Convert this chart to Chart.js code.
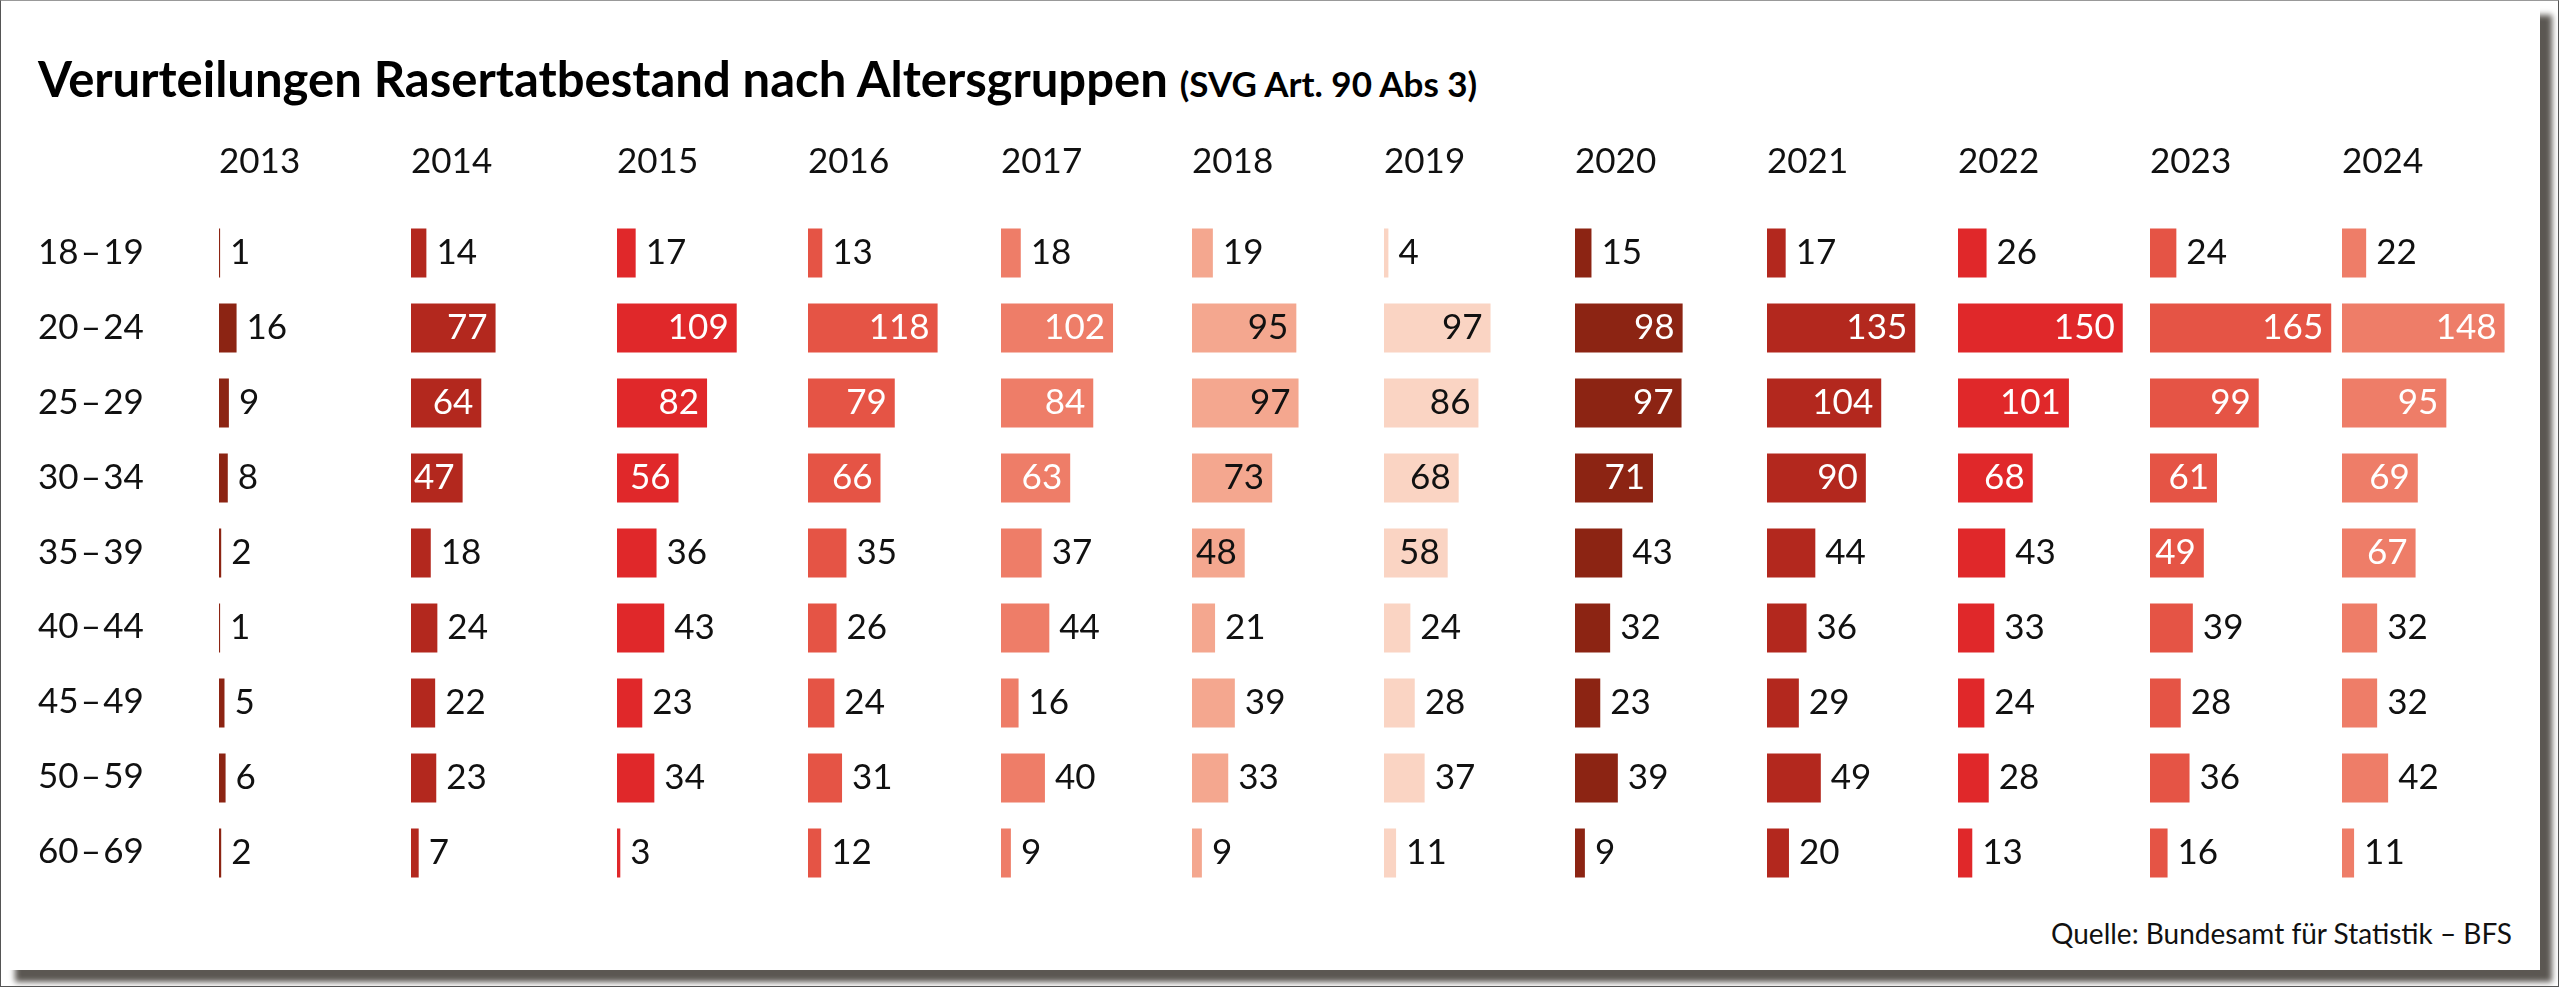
<!DOCTYPE html>
<html lang="de">
<head>
<meta charset="utf-8">
<title>Verurteilungen Rasertatbestand nach Altersgruppen</title>
<script src="https://cdn.jsdelivr.net/npm/chart.js@4.4.1/dist/chart.umd.min.js"></script>
<style>
  html, body { margin: 0; padding: 0; background: #fff; }
  #page { position: relative; width: 2560px; height: 987px; overflow: hidden; font-family: Lato, sans-serif; }
  #outer { position: absolute; left: 0; top: 0; width: 2557px; height: 985px; border: 1px solid #555; border-top-color: #999; }
  #panel { position: absolute; left: 3px; top: 3px; width: 2537px; height: 967px; background: #fff;
           box-shadow: 12px 12px 6px #5b5752; }
  #title { position: absolute; left: 38px; top: 54px; font-size: 49px; line-height: 49px; font-weight: 700; color: #000; white-space: nowrap; }
  #title span { font-size: 35px; }
  #source { position: absolute; right: 48px; top: 919px; font-size: 28px; line-height: 28px; color: #111; white-space: nowrap; }
  canvas { position: absolute; top: 120px; }
</style>
</head>
<body>
<div id="page">
  <div id="outer"></div>
  <div id="panel"></div>
  <div id="title">Verurteilungen Rasertatbestand nach Altersgruppen <span>(SVG Art. 90 Abs 3)</span></div>
  <div id="source">Quelle: Bundesamt für Statistik – BFS</div>
</div>
<script>
// Categories and values.
const ageGroups = ['18\u200a–\u200a19', '20\u200a–\u200a24', '25\u200a–\u200a29', '30\u200a–\u200a34', '35\u200a–\u200a39',
                   '40\u200a–\u200a44', '45\u200a–\u200a49', '50\u200a–\u200a59', '60\u200a–\u200a69'];
const years = ['2013', '2014', '2015', '2016', '2017', '2018', '2019', '2020', '2021', '2022', '2023', '2024'];

const v2013 = [1, 16, 9, 8, 2, 1, 5, 6, 2];
const v2014 = [14, 77, 64, 47, 18, 24, 22, 23, 7];
const v2015 = [17, 109, 82, 56, 36, 43, 23, 34, 3];
const v2016 = [13, 118, 79, 66, 35, 26, 24, 31, 12];
const v2017 = [18, 102, 84, 63, 37, 44, 16, 40, 9];
const v2018 = [19, 95, 97, 73, 48, 21, 39, 33, 9];
const v2019 = [4, 97, 86, 68, 58, 24, 28, 37, 11];
const v2020 = [15, 98, 97, 71, 43, 32, 23, 39, 9];
const v2021 = [17, 135, 104, 90, 44, 36, 29, 49, 20];
const v2022 = [26, 150, 101, 68, 43, 33, 24, 28, 13];
const v2023 = [24, 165, 99, 61, 49, 39, 28, 36, 16];
const v2024 = [22, 148, 95, 69, 67, 32, 32, 42, 11];
const seriesByYear = [v2013, v2014, v2015, v2016, v2017, v2018, v2019, v2020, v2021, v2022, v2023, v2024];

// Styling per column.
const barColors = ['#8c2413', '#b3281e', '#e0282a', '#e55445', '#ee7d68', '#f4a78f', '#fad4c3',
                   '#8c2413', '#b3281e', '#e0282a', '#e55445', '#ee7d68'];
const insideTextColors = ['#fff', '#fff', '#fff', '#fff', '#fff', '#111', '#111',
                          '#fff', '#fff', '#fff', '#fff', '#fff'];
// Left edge of each small chart (where the bars start).
const columnLeft = [219, 411, 617, 808, 1001, 1192, 1384, 1575, 1767, 1958, 2150, 2342];

const FONT = 'Lato';
const TEXT = '#111';
const CANVAS_H = 790;
const COLUMN_W = 190;
const X_MAX = 173;

// Shared vertical layout, so every small chart lines up with the row labels.
const titleOpts = text => ({
    display: true,
    text: text,
    align: 'start',
    color: TEXT,
    font: { family: FONT, size: 35, weight: 'normal' },
    padding: { top: 21, bottom: 32.5 }
});
const layoutOpts = { padding: { left: 0, right: 0, top: 0, bottom: 19.5 } };

/**
 * Writes the value next to each bar, or inside its end if the bar is wide enough.
 */
const valueLabels = {
    id: 'valueLabels',
    afterDatasetsDraw( chart, args, opts ) {
        const ctx = chart.ctx;
        const meta = chart.getDatasetMeta( 0 );
        const data = chart.data.datasets[0].data;
        ctx.save();
        ctx.font = '35px ' + FONT;
        ctx.textBaseline = 'middle';
        meta.data.forEach( function( bar, i ) {
            const v = data[i];
            if ( v >= 45 && i < 5 ) {
                ctx.textAlign = 'right';
                ctx.fillStyle = opts.insideColor;
                ctx.fillText( String( v ), bar.x - 8, bar.y );
            } else {
                ctx.textAlign = 'left';
                ctx.fillStyle = TEXT;
                ctx.fillText( String( v ), bar.x + 10, bar.y );
            }
        });
        ctx.restore();
    }
};

function makeCanvas( left, width ) {
    const canvas = document.createElement( 'canvas' );
    canvas.width = width;
    canvas.height = CANVAS_H;
    canvas.style.left = left + 'px';
    canvas.style.width = width + 'px';
    canvas.style.height = CANVAS_H + 'px';
    document.getElementById( 'page' ).appendChild( canvas );
    return canvas;
}

/**
 * The row labels column: a chart that only shows its category axis.
 */
function createLabelChart() {
    new Chart( makeCanvas( 38, 200 ), {
        type: 'bar',
        data: { labels: ageGroups, datasets: [] },
        options: {
            indexAxis: 'y',
            responsive: false,
            animation: false,
            layout: layoutOpts,
            scales: {
                x: { display: false },
                y: {
                    offset: true,
                    grid: { display: false },
                    border: { display: false },
                    ticks: { color: TEXT, font: { family: FONT, size: 35 }, crossAlign: 'far', padding: 0 },
                    afterFit: function( scale ) { scale.width = 170; }
                }
            },
            plugins: {
                legend: { display: false },
                tooltip: { enabled: false },
                title: titleOpts( ' ' )
            }
        }
    });
}

/**
 * One small horizontal bar chart for one year.
 */
function createYearChart( i ) {
    new Chart( makeCanvas( columnLeft[i], COLUMN_W ), {
        type: 'bar',
        data: {
            labels: ageGroups,
            datasets: [{
                data: seriesByYear[i],
                backgroundColor: barColors[i],
                borderWidth: 0,
                barPercentage: 0.653,
                categoryPercentage: 1
            }]
        },
        options: {
            indexAxis: 'y',
            responsive: false,
            animation: false,
            layout: layoutOpts,
            scales: {
                x: { display: false, min: 0, max: X_MAX },
                y: { display: false, offset: true }
            },
            plugins: {
                legend: { display: false },
                tooltip: { enabled: false },
                title: titleOpts( years[i] ),
                valueLabels: { insideColor: insideTextColors[i] }
            }
        },
        plugins: [ valueLabels ]
    });
}

function drawAll() {
    createLabelChart();
    years.forEach( function( y, i ) { createYearChart( i ); });
}

if ( document.fonts && document.fonts.load ) {
    Promise.all([ document.fonts.load( '35px Lato' ), document.fonts.load( 'bold 49px Lato' ) ])
        .then( drawAll, drawAll );
} else {
    drawAll();
}
</script>
</body>
</html>
